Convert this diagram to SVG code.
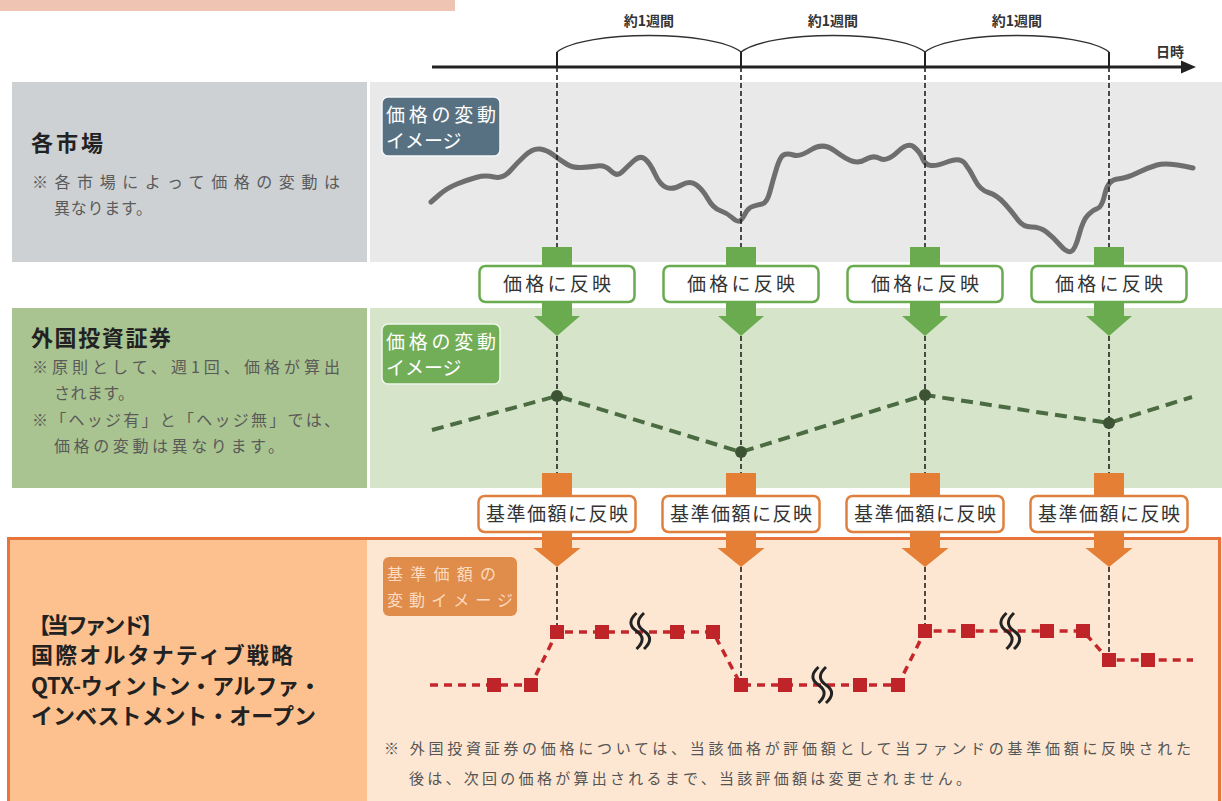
<svg xmlns="http://www.w3.org/2000/svg" width="1222" height="801" viewBox="0 0 1222 801">
<style>
.jp{font-family:"Noto Sans CJK JP","Noto Sans",sans-serif}
.title{font-size:22px;font-weight:700;fill:#222}
.note{font-size:16px;fill:#5a5a5a}
.lbl{font-size:19px;fill:#333;text-anchor:middle}
.badge{font-size:19px;fill:#fff}
.week{font-size:14px;fill:#333;text-anchor:middle;font-weight:700}
.vdash{stroke:#222;stroke-width:1.6;stroke-dasharray:5 3;fill:none}
.gbox{fill:#fff;stroke:#6aab4f;stroke-width:2.5}
.obox{fill:#fff;stroke:#e0803f;stroke-width:2.5}
</style>
<defs>
<g id="garrow"><rect x="-15" y="247" width="30" height="21" fill="#6aab4f"/><path d="M-15,301 h30 v15 h8 l-23,20 l-23,-20 h8 z" fill="#6aab4f"/></g>
<g id="oarrow"><rect x="-15" y="473" width="30" height="24" fill="#e57f36"/><path d="M-15,531 h30 v17 h8.5 l-23.5,19 l-23.5,-19 h8.5 z" fill="#e57f36"/></g>
<g id="squig"><path d="M-3.5,-18 C-11,-11 -11,-5 -3.5,0 C4,5 4,11 -3.5,18 M4,-18 C-3.5,-11 -3.5,-5 4,0 C11.5,5 11.5,11 4,18" fill="none" stroke="#222" stroke-width="3"/></g>
<rect id="sq" x="-7" y="-7" width="14" height="14" fill="#bf2429"/>
</defs>

<rect width="1222" height="801" fill="#fff"/>
<rect x="0" y="0" width="455" height="11" fill="#efc4b3"/>

<!-- panels -->
<g id="panel-market">
<rect x="12" y="82" width="355" height="180" fill="#cdd1d4"/>
<rect x="370" y="82" width="852" height="180" fill="#e9e9ea"/>
</g>
<g id="panel-security">
<rect x="12" y="308" width="355" height="180" fill="#a9c490"/>
<rect x="370" y="308" width="852" height="180" fill="#d6e4c9"/>
</g>
<g id="panel-fund">
<rect x="8" y="538" width="1214" height="263" fill="#fde7d2"/>
<rect x="8" y="538" width="359" height="263" fill="#fcc18e"/>
<rect x="8.5" y="538.5" width="1211" height="264" fill="none" stroke="#e9743b" stroke-width="3"/>
</g>

<!-- timeline -->
<g id="timeline">
<line x1="432" y1="67" x2="1184" y2="67" stroke="#222" stroke-width="3"/>
<polygon points="1181,60.5 1196,67 1181,73.5" fill="#222"/>
<g stroke="#222" stroke-width="2"><line x1="557" y1="52" x2="557" y2="67"/><line x1="741" y1="52" x2="741" y2="67"/><line x1="925" y1="52" x2="925" y2="67"/><line x1="1109" y1="52" x2="1109" y2="67"/></g>
<g fill="none" stroke="#333" stroke-width="1.5">
<path d="M557,52 C585,30 713,30 741,52"/>
<path d="M741,52 C769,30 897,30 925,52"/>
<path d="M925,52 C953,30 1081,30 1109,52"/>
</g>
<text class="jp week" x="649" y="26">約1週間</text>
<text class="jp week" x="833" y="26">約1週間</text>
<text class="jp week" x="1017" y="26">約1週間</text>
<text class="jp" x="1170" y="57" font-size="14" font-weight="700" fill="#333" text-anchor="middle">日時</text>
</g>

<!-- curves -->
<g id="market-curve">
<path d="M431,202 L439,195 Q447,188 457,184 Q467,180 476,177.5 Q485,175 494,177 Q503,179 510,171 Q517,163 525,155.5 Q533,148 540,149 Q547,150 553.5,155 Q560,160 566.5,164 Q573,168 581.5,167.5 Q590,167 597.5,166 Q605,165 611,171 Q617,177 622,172 Q627,167 633.5,161 Q640,155 645,159 Q650,163 655,174 Q660,185 666.5,187.5 Q673,190 681.5,185 Q690,180 696.5,185 Q703,190 708,199 Q713,208 720,210.5 Q727,213 732,217.5 Q737,222 739.5,221 Q742,220 745,214 Q748,208 752.5,206.5 Q757,205 762,204 Q767,203 770,191.5 Q773,180 776.5,168.5 Q780,157 783.5,155 Q787,153 793.5,155 Q800,157 811.5,149.5 Q823,142 835,151 Q847,160 853.5,161.5 Q860,163 866.5,159 Q873,155 880,158.5 Q887,162 897.5,152 Q908,142 914,147 Q920,152 922.5,158.5 Q925,165 931,165.5 Q937,166 948.5,161.5 Q960,157 965,163.5 Q970,170 975,180 Q980,190 988.5,192.5 Q997,195 1005,204 Q1013,213 1018,220 Q1023,227 1031.5,227 Q1040,227 1046.5,232 Q1053,237 1060,245 Q1067,253 1071,251.5 Q1075,250 1079,235 Q1083,220 1088,215 Q1093,210 1097.5,208.5 Q1102,207 1105,193.5 Q1108,180 1117.5,179 Q1127,178 1137,173 Q1147,168 1157,165 Q1167,162 1193,168" fill="none" stroke="#6e6e6e" stroke-width="5" stroke-linecap="round" stroke-linejoin="round"/>
</g>

<!-- connectors -->
<g id="connectors">
<g class="vdash">
<line x1="557" y1="67" x2="557" y2="248"/><line x1="741" y1="67" x2="741" y2="248"/><line x1="925" y1="67" x2="925" y2="248"/><line x1="1109" y1="67" x2="1109" y2="248"/>
<line x1="557" y1="336" x2="557" y2="473"/><line x1="741" y1="336" x2="741" y2="473"/><line x1="925" y1="336" x2="925" y2="473"/><line x1="1109" y1="336" x2="1109" y2="473"/>
<line x1="557" y1="567" x2="557" y2="625"/><line x1="741" y1="567" x2="741" y2="678"/><line x1="925" y1="567" x2="925" y2="624"/><line x1="1109" y1="567" x2="1109" y2="653"/>
</g>
<use href="#garrow" x="557"/><use href="#garrow" x="741"/><use href="#garrow" x="925"/><use href="#garrow" x="1109"/>
<use href="#oarrow" x="557"/><use href="#oarrow" x="741"/><use href="#oarrow" x="925"/><use href="#oarrow" x="1109"/>
</g>

<!-- security dashed line -->
<g id="security-line">
<polyline points="432,430 557,396 741,452 925,395 1109,423 1192,397" fill="none" stroke="#4b6b42" stroke-width="4" stroke-dasharray="12 7"/>
<g fill="#3c5434"><circle cx="557" cy="396" r="6"/><circle cx="741" cy="452" r="6"/><circle cx="925" cy="395" r="6"/><circle cx="1109" cy="423" r="6"/></g>
</g>

<!-- fund line -->
<g id="fund-line">
<polyline points="430,685 531,685 557,632 713,632 741,685 898,685 925,631 1083,631 1109,660 1193,660" fill="none" stroke="#c3272b" stroke-width="3.5" stroke-dasharray="8 6"/>
<use href="#sq" x="494" y="685"/><use href="#sq" x="531" y="685"/>
<use href="#sq" x="557" y="632"/><use href="#sq" x="602" y="632"/><use href="#sq" x="677" y="632"/><use href="#sq" x="713" y="632"/>
<use href="#sq" x="741" y="685"/><use href="#sq" x="785" y="685"/><use href="#sq" x="860" y="685"/><use href="#sq" x="898" y="685"/>
<use href="#sq" x="925" y="631"/><use href="#sq" x="968" y="631"/><use href="#sq" x="1047" y="631"/><use href="#sq" x="1083" y="631"/>
<use href="#sq" x="1109" y="660"/><use href="#sq" x="1148" y="660"/>
<use href="#squig" x="640" y="631"/><use href="#squig" x="822" y="685"/><use href="#squig" x="1010" y="631"/>
</g>

<!-- label boxes -->
<g id="reflect-price-1"><rect class="gbox" x="479.5" y="266" width="155" height="36" rx="6"/><text class="jp lbl" x="557" y="291" textLength="108" lengthAdjust="spacing">価格に反映</text></g>
<g id="reflect-price-2"><rect class="gbox" x="663.5" y="266" width="155" height="36" rx="6"/><text class="jp lbl" x="741" y="291" textLength="108" lengthAdjust="spacing">価格に反映</text></g>
<g id="reflect-price-3"><rect class="gbox" x="847.5" y="266" width="155" height="36" rx="6"/><text class="jp lbl" x="925" y="291" textLength="108" lengthAdjust="spacing">価格に反映</text></g>
<g id="reflect-price-4"><rect class="gbox" x="1031.5" y="266" width="155" height="36" rx="6"/><text class="jp lbl" x="1109" y="291" textLength="108" lengthAdjust="spacing">価格に反映</text></g>
<g id="reflect-nav-1"><rect class="obox" x="478.5" y="496" width="157" height="36" rx="6"/><text class="jp lbl" x="557" y="521" font-size="18" textLength="142" lengthAdjust="spacing">基準価額に反映</text></g>
<g id="reflect-nav-2"><rect class="obox" x="662.5" y="496" width="157" height="36" rx="6"/><text class="jp lbl" x="741" y="521" font-size="18" textLength="142" lengthAdjust="spacing">基準価額に反映</text></g>
<g id="reflect-nav-3"><rect class="obox" x="846.5" y="496" width="157" height="36" rx="6"/><text class="jp lbl" x="925" y="521" font-size="18" textLength="142" lengthAdjust="spacing">基準価額に反映</text></g>
<g id="reflect-nav-4"><rect class="obox" x="1030.5" y="496" width="157" height="36" rx="6"/><text class="jp lbl" x="1109" y="521" font-size="18" textLength="142" lengthAdjust="spacing">基準価額に反映</text></g>

<!-- badges -->
<g id="badge-market">
<rect x="382" y="97" width="118" height="59" rx="6" fill="#587182" stroke="#f4f6f8" stroke-width="1.5"/>
<text class="jp badge" x="386" y="122" textLength="110" lengthAdjust="spacing">価格の変動</text>
<text class="jp badge" x="386" y="148">イメージ</text>
</g>
<g id="badge-security">
<rect x="382" y="324" width="118" height="60" rx="6" fill="#72ad57" stroke="#eef5ea" stroke-width="1.5"/>
<text class="jp badge" x="386" y="349" textLength="110" lengthAdjust="spacing">価格の変動</text>
<text class="jp badge" x="386" y="375">イメージ</text>
</g>
<g id="badge-fund">
<rect x="383" y="557" width="134" height="59" rx="6" fill="#e08c4a"/>
<text class="jp" x="387" y="580" font-size="16" fill="#fbdcc2" textLength="109" lengthAdjust="spacing">基準価額の</text>
<text class="jp" x="387" y="606" font-size="16" fill="#fbdcc2" textLength="126" lengthAdjust="spacing">変動イメージ</text>
</g>

<!-- left texts -->
<g id="label-market">
<text class="jp title" x="31" y="151" textLength="72" lengthAdjust="spacing">各市場</text>
<text class="jp note" x="32" y="188" textLength="308" lengthAdjust="spacing">※各市場によって価格の変動は</text>
<text class="jp note" x="54" y="214" textLength="98" lengthAdjust="spacing">異なります。</text>
</g>
<g id="label-security">
<text class="jp title" x="31" y="346" textLength="140" lengthAdjust="spacing">外国投資証券</text>
<text class="jp note" x="32" y="373" textLength="308" lengthAdjust="spacing">※原則として、週1回、価格が算出</text>
<text class="jp note" x="54" y="399" textLength="80" lengthAdjust="spacing">されます。</text>
<text class="jp note" x="32" y="426" textLength="308" lengthAdjust="spacing">※「ヘッジ有」と「ヘッジ無」では、</text>
<text class="jp note" x="54" y="452" textLength="230" lengthAdjust="spacing">価格の変動は異なります。</text>
</g>
<g id="label-fund">
<text class="jp title" x="28" y="633" textLength="135" lengthAdjust="spacing">【当ファンド】</text>
<text class="jp title" x="31" y="663" textLength="262" lengthAdjust="spacing">国際オルタナティブ戦略</text>
<text class="jp title" x="31" y="694" textLength="290" lengthAdjust="spacing">QTX-ウィントン・アルファ・</text>
<text class="jp title" x="31" y="724" textLength="285" lengthAdjust="spacing">インベストメント・オープン</text>
</g>
<g id="footnote">
<text class="jp" x="384" y="754" font-size="15" fill="#555" textLength="807" lengthAdjust="spacing">※ 外国投資証券の価格については、当該価格が評価額として当ファンドの基準価額に反映された</text>
<text class="jp" x="409" y="784" font-size="15" fill="#555" textLength="562" lengthAdjust="spacing">後は、次回の価格が算出されるまで、当該評価額は変更されません。</text>
</g>
</svg>
